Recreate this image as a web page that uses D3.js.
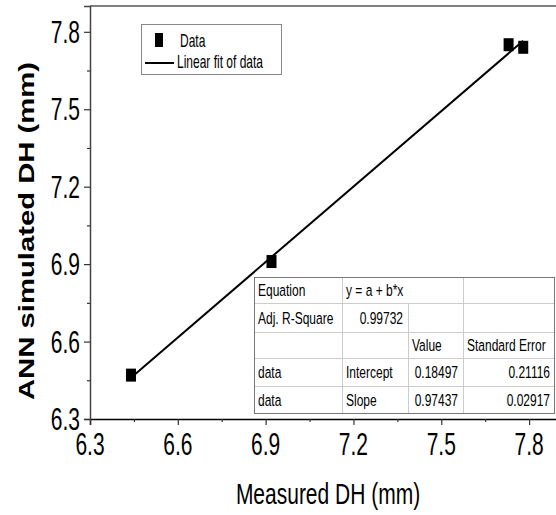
<!DOCTYPE html>
<html>
<head>
<meta charset="utf-8">
<script src="https://cdn.jsdelivr.net/npm/d3@7"></script>
<style>
    body { margin: 0; background: #fff; }
    svg { display: block; font-family: "Liberation Sans", Arial, sans-serif; }
</style>
</head>
<body>
<svg id="chart" width="556" height="515"></svg>
<script>
// measured vs ANN simulated diameter of hole
const measured = [6.44, 6.92, 7.73, 7.78];
const simulated = [6.47, 6.91, 7.75, 7.74];

const fitIntercept = 0.18497;
const fitSlope = 0.97437;

const majorTicks = [6.3, 6.6, 6.9, 7.2, 7.5, 7.8];
const minorTicks = [6.45, 6.75, 7.05, 7.35, 7.65, 7.95];

const tableRows = [
    ['Equation', 'y = a + b*x', '', ''],
    ['Adj. R-Square', '0.99732', '', ''],
    ['', '', 'Value', 'Standard Error'],
    ['data', 'Intercept', '0.18497', '0.21116'],
    ['data', 'Slope', '0.97437', '0.02917']
];

const svg = d3.select('#chart');
const stretch = 1.45; // the original figure is squashed horizontally

const x = d3.scaleLinear().domain([6.3, 7.95]).range([90, 573]);
const y = d3.scaleLinear().domain([6.3, 7.9]).range([419, 6]);

function stretchedText(g, tx, ty, str, size, anchor, sy) {
    return g.append('text')
        .attr('transform', `translate(${tx},${ty}) scale(1,${sy || stretch})`)
        .attr('text-anchor', anchor || 'start')
        .attr('font-size', size)
        .attr('fill', '#000')
        .text(str);
}

// frame: top edge
svg.append('line')
    .attr('x1', x(6.3)).attr('x2', 556)
    .attr('y1', y(7.9)).attr('y2', y(7.9))
    .attr('stroke', '#555').attr('stroke-width', 1.5);

// x axis
const xAxis = svg.append('g').attr('transform', `translate(0,${y(6.3)})`);
xAxis.call(d3.axisBottom(x).tickValues(majorTicks).tickSize(6).tickFormat(''));
xAxis.append('g').call(d3.axisBottom(x).tickValues(minorTicks).tickSize(3).tickFormat(''))
    .select('.domain').remove();
xAxis.selectAll('.domain').attr('stroke', '#000').attr('stroke-width', 1.5);
xAxis.selectAll('.tick line').attr('stroke', '#333').attr('stroke-width', 1.2);
majorTicks.forEach(v => stretchedText(xAxis, x(v), 36, d3.format('.1f')(v), 21, 'middle'));

// y axis
const yAxis = svg.append('g').attr('transform', `translate(${x(6.3)},0)`);
yAxis.call(d3.axisLeft(y).tickValues(majorTicks).tickSize(6).tickFormat(''));
yAxis.append('g').call(d3.axisLeft(y).tickValues(minorTicks.slice(0, 5)).tickSize(3).tickFormat(''))
    .select('.domain').remove();
yAxis.selectAll('.domain').attr('stroke', '#444').attr('stroke-width', 1.5);
yAxis.selectAll('.tick line').attr('stroke', '#333').attr('stroke-width', 1.2);
majorTicks.forEach(v => stretchedText(yAxis, -10, y(v) + 11, d3.format('.1f')(v), 21, 'end'));

// axis titles
stretchedText(svg, 328, 504, 'Measured DH (mm)', 21, 'middle', 1.4);
svg.append('text')
    .attr('transform', 'translate(34,231) rotate(-90) scale(1.33,1)')
    .attr('text-anchor', 'middle')
    .attr('font-size', 22)
    .attr('font-weight', 'bold')
    .text('ANN simulated DH (mm)');

// fit line
const xmin = d3.min(measured), xmax = d3.max(measured);
svg.append('line')
    .attr('x1', x(xmin)).attr('y1', y(fitIntercept + fitSlope * xmin))
    .attr('x2', x(xmax)).attr('y2', y(fitIntercept + fitSlope * xmax))
    .attr('stroke', '#000').attr('stroke-width', 2);

// data points
svg.selectAll('rect.point')
    .data(measured.map((m, i) => [m, simulated[i]]))
    .enter()
    .append('rect')
    .attr('class', 'point')
    .attr('x', d => x(d[0]) - 5)
    .attr('y', d => y(d[1]) - 6.5)
    .attr('width', 10)
    .attr('height', 13)
    .attr('fill', '#000');

// legend
const legend = svg.append('g');
legend.append('rect')
    .attr('x', 141.5).attr('y', 24.5).attr('width', 140).attr('height', 50)
    .attr('fill', '#fff').attr('stroke', '#888');
legend.append('rect')
    .attr('x', 155).attr('y', 33).attr('width', 8).attr('height', 14).attr('fill', '#000');
stretchedText(legend, 180, 47, 'Data', 12, 'start', 1.5);
legend.append('line')
    .attr('x1', 145).attr('x2', 174).attr('y1', 63).attr('y2', 63)
    .attr('stroke', '#000').attr('stroke-width', 2);
stretchedText(legend, 177, 68, 'Linear fit of data', 12, 'start', 1.5);

// fit statistics table
const cols = [254, 342, 408, 463, 555];
const rowsY = [277, 303, 332, 358, 386, 413];
const table = svg.append('g');
table.append('rect')
    .attr('x', cols[0]).attr('y', rowsY[0])
    .attr('width', cols[4] - cols[0]).attr('height', rowsY[5] - rowsY[0])
    .attr('fill', '#fff');
rowsY.slice(1, 5).forEach(ry => {
    table.append('line')
        .attr('x1', cols[0]).attr('x2', cols[4]).attr('y1', ry + 0.5).attr('y2', ry + 0.5)
        .attr('stroke', '#ccc');
});
[1, 2, 3].forEach(ci => {
    const startRow = ci === 2 ? 1 : 0;
    table.append('line')
        .attr('x1', cols[ci] + 0.5).attr('x2', cols[ci] + 0.5)
        .attr('y1', rowsY[startRow]).attr('y2', rowsY[5])
        .attr('stroke', '#ccc');
});
table.append('rect')
    .attr('x', cols[0] + 0.5).attr('y', rowsY[0] + 0.5)
    .attr('width', cols[4] - cols[0] - 1).attr('height', rowsY[5] - rowsY[0])
    .attr('fill', 'none').attr('stroke', '#777');

const isNumber = s => /^[0-9.]+$/.test(s);
tableRows.forEach((row, ri) => {
    const base = (rowsY[ri] + rowsY[ri + 1]) / 2 + 6;
    row.forEach((cell, ci) => {
        if (!cell) return;
        if (isNumber(cell)) {
            stretchedText(table, cols[ci + 1] - 5, base, cell, 12, 'end');
        } else {
            stretchedText(table, cols[ci] + 4, base, cell, 12, 'start');
        }
    });
});
</script>
</body>
</html>
